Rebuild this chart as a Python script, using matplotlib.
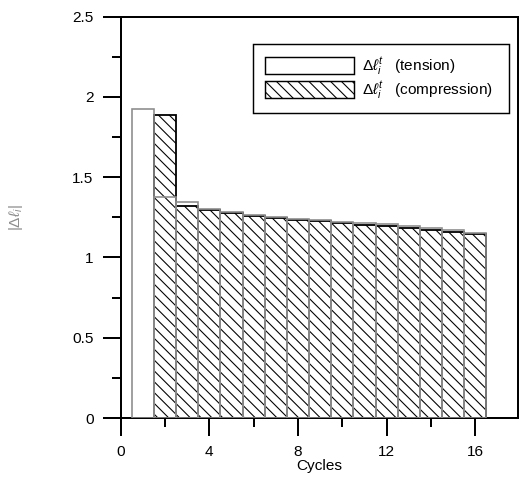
import numpy as np
import matplotlib
matplotlib.use("Agg")
import matplotlib.pyplot as plt
from matplotlib.patches import Patch
from matplotlib.ticker import MultipleLocator

# Données
cycles = np.arange(1, 17)
tension = [1.925, 1.379, 1.344, 1.305, 1.282, 1.265, 1.255, 1.242,
           1.232, 1.221, 1.213, 1.207, 1.194, 1.182, 1.171, 1.153]
compression = [0.0, 1.888, 1.323, 1.298, 1.276, 1.260, 1.247, 1.233,
               1.227, 1.213, 1.203, 1.194, 1.186, 1.171, 1.161, 1.148]
label_tension = r"$\Delta\ell^{t}_{i}$   (tension)"
label_compression = r"$\Delta\ell^{t}_{i}$   (compression)"

plt.rcParams['font.family'] = ['Liberation Sans', 'DejaVu Sans']
plt.rcParams['hatch.linewidth'] = 0.6
plt.rcParams['mathtext.fontset'] = 'custom'
plt.rcParams['mathtext.rm'] = 'Liberation Sans'
plt.rcParams['mathtext.it'] = 'Liberation Sans:italic'

fs = 8.5
fig = plt.figure(figsize=(4.0, 3.7), dpi=130)
ax = fig.add_axes([120.7 / 520, 1 - 418 / 481, 397.3 / 520, 401.3 / 481])

# barres compression (hachurées) puis tension (contour gris) par-dessus
ax.bar(cycles, compression, width=1.0, facecolor='white', edgecolor='black',
       hatch='\\\\\\\\', linewidth=1.0, zorder=2)
ax.bar(cycles, tension, width=1.0, facecolor='none', edgecolor='#8c8c8c',
       linewidth=0.9, zorder=3)

ax.set_xlim(0, 17.93)
ax.set_ylim(0, 2.5)
ax.xaxis.set_major_locator(MultipleLocator(4))
ax.xaxis.set_minor_locator(MultipleLocator(2))
ax.yaxis.set_minor_locator(MultipleLocator(0.25))
ax.set_yticks([0, 0.5, 1, 1.5, 2, 2.5])
ax.set_yticklabels(['0', '0.5', '1', '1.5', '2', '2.5'])

ax.tick_params(which='major', direction='out', length=10, width=1.1,
               labelsize=fs, pad=5)
ax.tick_params(which='minor', direction='out', length=5, width=1.1)
ax.tick_params(top=False, right=False, which='both')
for s in ax.spines.values():
    s.set_linewidth(1.1)

ax.set_xlabel('Cycles', fontsize=fs, labelpad=0)
ax.set_ylabel(r"$|\Delta\ell_{i}|$", fontsize=fs, color='#8c8c8c')
ax.yaxis.set_label_coords(-0.241, 0.5)

handles = [Patch(facecolor='white', edgecolor='black', linewidth=0.8),
           Patch(facecolor='white', edgecolor='black', linewidth=0.8,
                 hatch='\\\\\\\\')]
leg = ax.legend(handles, [label_tension + "  ", label_compression + "  "],
                loc='upper left', bbox_to_anchor=(253 / 520, 1 - 44 / 481),
                bbox_transform=fig.transFigure, borderaxespad=0,
                fontsize=fs, fancybox=False, framealpha=1, edgecolor='black',
                handlelength=5.8, handleheight=1.3, labelspacing=0.15,
                handletextpad=0.52, borderpad=0.75)
leg.get_frame().set_linewidth(0.8)

fig.savefig('out.png', dpi=130)
